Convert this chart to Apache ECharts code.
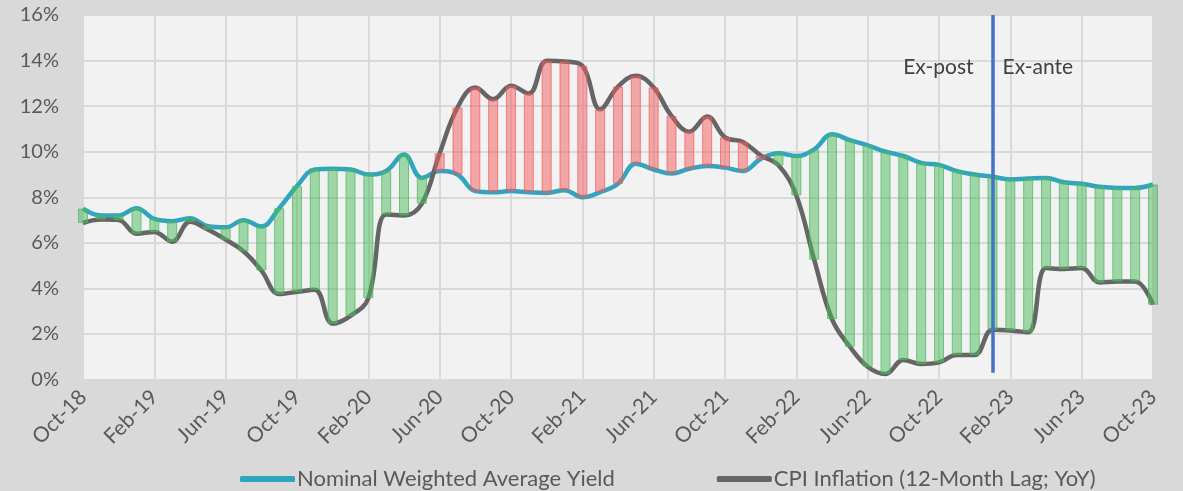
<!DOCTYPE html>
<html>
<head>
<meta charset="utf-8">
<script src="https://cdn.jsdelivr.net/npm/echarts@6/dist/echarts.min.js"></script>
<style>
  html, body { margin: 0; padding: 0; background: #d9d9d9; }
  #chart { width: 1183px; height: 491px; }
</style>
</head>
<body>
<div id="chart"></div>
<script>
const months = [
  'Oct-18','Nov-18','Dec-18','Jan-19','Feb-19','Mar-19','Apr-19','May-19','Jun-19','Jul-19','Aug-19','Sep-19',
  'Oct-19','Nov-19','Dec-19','Jan-20','Feb-20','Mar-20','Apr-20','May-20','Jun-20','Jul-20','Aug-20','Sep-20',
  'Oct-20','Nov-20','Dec-20','Jan-21','Feb-21','Mar-21','Apr-21','May-21','Jun-21','Jul-21','Aug-21','Sep-21',
  'Oct-21','Nov-21','Dec-21','Jan-22','Feb-22','Mar-22','Apr-22','May-22','Jun-22','Jul-22','Aug-22','Sep-22',
  'Oct-22','Nov-22','Dec-22','Jan-23','Feb-23','Mar-23','Apr-23','May-23','Jun-23','Jul-23','Aug-23','Sep-23',
  'Oct-23'
]

// nominal weighted average yield, %
const yieldData = [
  7.50, 7.20, 7.20, 7.52, 7.05, 6.95, 7.08, 6.73, 6.68, 6.99, 6.72, 7.52,
  8.49, 9.22, 9.25, 9.22, 9.00, 9.15, 9.88, 8.85, 9.15, 9.00, 8.27, 8.22,
  8.27, 8.22, 8.19, 8.31, 8.00, 8.22, 8.59, 9.47, 9.22, 9.04, 9.25, 9.37,
  9.30, 9.15, 9.68, 9.93, 9.81, 10.10, 10.76, 10.51, 10.28, 10.00, 9.81, 9.51,
  9.42, 9.15, 9.00, 8.90, 8.78, 8.82, 8.85, 8.66, 8.59, 8.46, 8.41, 8.41,
  8.56
]

// CPI inflation (12-month lag, YoY), %
const cpiData = [
  6.87, 7.02, 7.00, 6.40, 6.48, 6.05, 6.92, 6.58, 6.14, 5.63, 4.79, 3.75,
  3.85, 3.94, 2.45, 2.79, 3.57, 7.24, 7.20, 7.72, 9.93, 11.94, 12.82, 12.30,
  12.89, 12.55, 13.99, 13.96, 13.77, 11.86, 12.86, 13.33, 12.82, 11.57, 10.88, 11.54,
  10.63, 10.43, 9.84, 9.40, 8.08, 5.26, 2.65, 1.44, 0.56, 0.24, 0.86, 0.68,
  0.75, 1.08, 1.08, 2.18, 2.15, 2.07, 4.89, 4.85, 4.89, 4.26, 4.30, 4.30,
  3.28
]

const yTicks = [0, 2, 4, 6, 8, 10, 12, 14, 16]
const splitMonth = 'Jan-23'

// gap bars: invisible base at the lower line, coloured part up to the upper line
const baseData = yieldData.map((y, i) => Math.min(y, cpiData[i]))
const greenData = yieldData.map((y, i) => y >= cpiData[i] ? +(y - cpiData[i]).toFixed(2) : '-')
const redData = yieldData.map((y, i) => y < cpiData[i] ? +(cpiData[i] - y).toFixed(2) : '-')

const font = 'Lato, "Open Sans", sans-serif'

const option = {
  backgroundColor: '#d9d9d9',
  animation: false,
  grid: {
    left: 83, right: 30, top: 15, bottom: 111.5,
    show: true, backgroundColor: '#f2f2f2', borderWidth: 0
  },
  legend: {
    top: 463,
    left: 235,
    itemGap: 102,
    itemWidth: 55,
    itemHeight: 6,
    icon: 'roundRect',
    textStyle: { color: '#595959', fontSize: 22, fontFamily: font, padding: [0, 0, 0, -3] },
    data: ['Nominal Weighted Average Yield', 'CPI Inflation (12-Month Lag; YoY)']
  },
  xAxis: {
    type: 'category',
    data: months,
    boundaryGap: false,
    axisLine: { show: false },
    axisTick: { show: false },
    axisLabel: {
      interval: 3, rotate: 45, margin: 14,
      color: '#595959', fontSize: 21, fontFamily: font
    },
    splitLine: { show: true, interval: 3, lineStyle: { color: '#d9d9d9', width: 2 } }
  },
  yAxis: {
    type: 'value',
    min: yTicks[0],
    max: yTicks[yTicks.length - 1],
    interval: 2,
    axisLine: { show: false },
    axisTick: { show: false },
    axisLabel: {
      margin: 24, color: '#595959', fontSize: 20, fontFamily: font,
      formatter: v => v + '%'
    },
    splitLine: { lineStyle: { color: '#d9d9d9', width: 2 } }
  },
  series: [
    {
      name: 'Nominal Weighted Average Yield',
      type: 'line',
      data: yieldData,
      smooth: 0.4,
      showSymbol: false,
      z: 2,
      lineStyle: { color: '#31a4c0', width: 4.5 },
      itemStyle: { color: '#31a4c0' }
    },
    {
      name: 'CPI Inflation (12-Month Lag; YoY)',
      type: 'line',
      data: cpiData,
      smooth: 0.4,
      showSymbol: false,
      z: 2,
      lineStyle: { color: '#656565', width: 4.5 },
      itemStyle: { color: '#656565' },
      markLine: {
        silent: true,
        symbol: 'none',
        z: 5,
        label: { show: false },
        lineStyle: { color: '#4472c4', width: 3.5, type: 'solid' },
        data: [[{ coord: [splitMonth, 16] }, { coord: [splitMonth, 0.3] }]]
      },
      markPoint: {
        silent: true,
        symbol: 'rect',
        symbolSize: 0,
        data: [
          { name: 'Ex-post', coord: [splitMonth, 13.7],
            label: { position: 'left', distance: 19 } },
          { name: 'Ex-ante', coord: [splitMonth, 13.7],
            label: { position: 'right', distance: 10 } }
        ],
        label: {
          show: true, formatter: '{b}',
          color: '#404040', fontSize: 21, fontFamily: font
        }
      }
    },
    {
      name: 'base',
      type: 'bar',
      stack: 'gap',
      data: baseData,
      barWidth: 10,
      z: 3,
      itemStyle: { color: 'rgba(0,0,0,0)' }
    },
    {
      name: 'positive',
      type: 'bar',
      stack: 'gap',
      data: greenData,
      barWidth: 10,
      z: 3,
      itemStyle: { color: 'rgba(76,186,92,0.5)', borderColor: 'rgba(76,186,92,0.75)', borderWidth: 1 }
    },
    {
      name: 'negative',
      type: 'bar',
      stack: 'gap',
      data: redData,
      barWidth: 10,
      z: 3,
      itemStyle: { color: 'rgba(242,90,92,0.5)', borderColor: 'rgba(242,90,92,0.7)', borderWidth: 1 }
    }
  ]
}

const chart = echarts.init(document.getElementById('chart'))
chart.setOption(option)
</script>
</body>
</html>
